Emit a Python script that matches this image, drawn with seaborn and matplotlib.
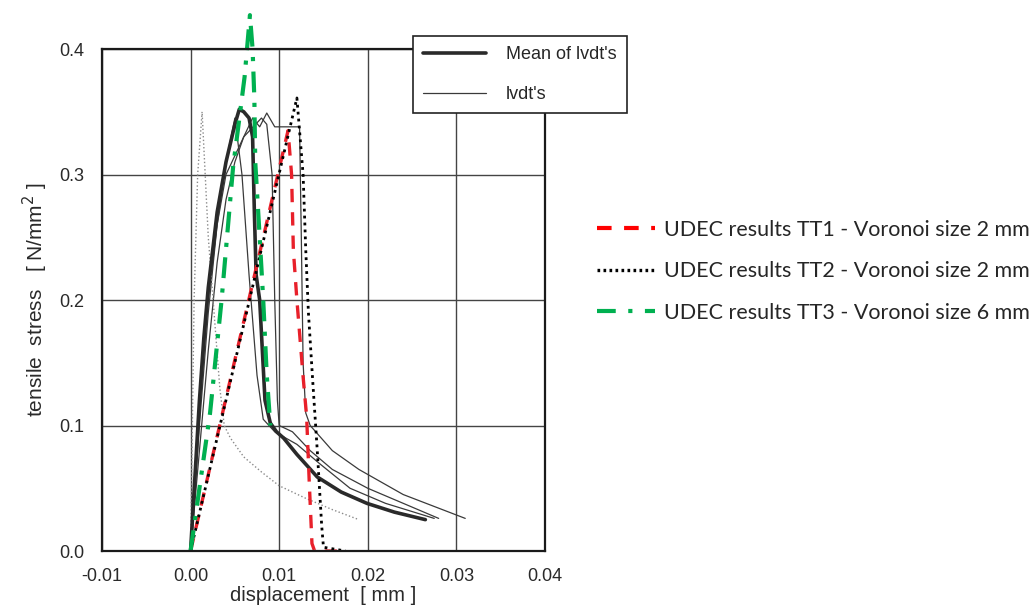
import seaborn as sns
import pandas as pd
import matplotlib.pyplot as plt
from matplotlib.lines import Line2D

# mean of the lvdt measurements (thick line)
mean_x = [0, 0.0005, 0.001, 0.0015, 0.002, 0.003, 0.004, 0.005, 0.0055, 0.006, 0.0066, 0.0070,
          0.0072, 0.0074, 0.0078, 0.0081, 0.0084, 0.0090, 0.0097, 0.0105, 0.012, 0.0143, 0.017,
          0.0199, 0.023, 0.0265]
mean_y = [0, 0.06, 0.12, 0.17, 0.21, 0.27, 0.31, 0.34, 0.352, 0.35, 0.345, 0.33,
          0.27, 0.22, 0.20, 0.16, 0.12, 0.102, 0.095, 0.09, 0.077, 0.059, 0.047,
          0.038, 0.031, 0.025]

# single lvdt's (thin lines)
lvdt1_x = [0, 0.001, 0.002, 0.003, 0.004, 0.005, 0.0058, 0.0066, 0.0075, 0.0082, 0.0095, 0.012,
           0.0145, 0.018, 0.022, 0.0275]
lvdt1_y = [0, 0.1, 0.19, 0.26, 0.31, 0.345, 0.30, 0.22, 0.14, 0.105, 0.095, 0.085,
           0.07, 0.05, 0.038, 0.026]
lvdt2_x = [0, 0.001, 0.002, 0.003, 0.004, 0.005, 0.006, 0.007, 0.0078, 0.0086, 0.0095, 0.0123,
           0.0125, 0.0127, 0.013, 0.0135, 0.016, 0.019, 0.024, 0.031]
lvdt2_y = [0, 0.08, 0.16, 0.23, 0.28, 0.31, 0.33, 0.345, 0.338, 0.349, 0.338, 0.338,
           0.25, 0.15, 0.11, 0.10, 0.08, 0.065, 0.045, 0.026]
lvdt3_x = [0, 0.001, 0.002, 0.003, 0.004, 0.006, 0.008, 0.0086, 0.0092, 0.0095, 0.0098, 0.010,
           0.0115, 0.0135, 0.016, 0.02, 0.025, 0.028]
lvdt3_y = [0, 0.11, 0.2, 0.26, 0.3, 0.33, 0.345, 0.34, 0.30, 0.2, 0.12, 0.1,
           0.095, 0.08, 0.065, 0.05, 0.035, 0.026]
lvdt4_x = [0, 0.0004, 0.0008, 0.0013, 0.002, 0.0033, 0.0038, 0.0045, 0.006, 0.008, 0.01,
           0.013, 0.016, 0.019]
lvdt4_y = [0, 0.2, 0.3, 0.35, 0.25, 0.13, 0.1, 0.09, 0.075, 0.063, 0.052,
           0.042, 0.033, 0.025]

# UDEC results
tt1_x = [0, 0.011, 0.0114, 0.0116, 0.012, 0.0127, 0.0131, 0.0134, 0.0137, 0.014, 0.0165]
tt1_y = [0, 0.335, 0.30, 0.24, 0.2, 0.139, 0.107, 0.054, 0.006, 0.0, 0.0]
tt2_x = [0, 0.012, 0.0127, 0.013, 0.0133, 0.0138, 0.0143, 0.0148, 0.015, 0.0175]
tt2_y = [0, 0.361, 0.30, 0.24, 0.19, 0.134, 0.08, 0.02, 0.003, 0.0]
tt3_x = [0, 0.0022, 0.0035, 0.0048, 0.0056, 0.0061, 0.0067, 0.0070, 0.0072, 0.0073, 0.0078,
         0.0082, 0.0086, 0.009]
tt3_y = [0, 0.11, 0.2, 0.306, 0.35, 0.378, 0.427, 0.40, 0.36, 0.31, 0.25,
         0.2, 0.14, 0.1]

x_ticks = [-0.01, 0.0, 0.01, 0.02, 0.03, 0.04]
x_ticklabels = ['-0.01', '0.00', '0.01', '0.02', '0.03', '0.04']
y_ticks = [0.0, 0.1, 0.2, 0.3, 0.4]
y_ticklabels = ['0.0', '0.1', '0.2', '0.3', '0.4']

sns.set_style("white")
plt.rcParams['font.family'] = ['Liberation Sans', 'DejaVu Sans']

fig = plt.figure(figsize=(10.31, 6.09), dpi=100)
ax = fig.add_axes([0.0989, 0.0952, 0.4297, 0.8243])

grey = '#3a3a3a'
for xs, ys in [(lvdt1_x, lvdt1_y), (lvdt2_x, lvdt2_y), (lvdt3_x, lvdt3_y)]:
    sns.lineplot(x=xs, y=ys, sort=False, estimator=None, ax=ax, color=grey, lw=0.9)
sns.lineplot(x=lvdt4_x, y=lvdt4_y, sort=False, estimator=None, ax=ax, color='#8a8a8a',
             lw=1.0, linestyle=':')
sns.lineplot(x=mean_x, y=mean_y, sort=False, estimator=None, ax=ax, color='#2a2a2a', lw=2.6)

sns.lineplot(x=tt1_x, y=tt1_y, sort=False, estimator=None, ax=ax, color='#e8202a', lw=2.4,
             linestyle=(0, (4, 3)))
sns.lineplot(x=tt2_x, y=tt2_y, sort=False, estimator=None, ax=ax, color='black', lw=2.0,
             linestyle=(0, (1, 1.5)))
sns.lineplot(x=tt3_x, y=tt3_y, sort=False, estimator=None, ax=ax, color='#00b050', lw=3.0,
             linestyle=(0, (5, 2.5, 1, 2.5)), clip_on=False)

ax.set_xlim(-0.01, 0.04)
ax.set_ylim(0, 0.4)
ax.set_xticks(x_ticks)
ax.set_yticks(y_ticks)
ax.set_xticklabels(x_ticklabels)
ax.set_yticklabels(y_ticklabels)
ax.tick_params(axis='x', labelsize=13, colors='#2a2a2a', length=0, pad=12)
ax.tick_params(axis='y', labelsize=13, colors='#2a2a2a', length=0, pad=13)
ax.grid(True, color='#444444', lw=1.0)
for s in ax.spines.values():
    s.set_color('#1a1a1a')
    s.set_linewidth(1.6)
ax.set_xlabel('displacement  [ mm ]', fontsize=14.5, color='#2a2a2a', labelpad=1)
ax.set_ylabel('tensile  stress   [ N/mm$^2$ ]', fontsize=15, color='#2a2a2a', labelpad=6)

# legend of the measurements (inside the frame)
meas = [Line2D([], [], color='#2a2a2a', lw=2.6), Line2D([], [], color=grey, lw=0.9)]
leg1 = fig.legend(meas, ["Mean of lvdt's", "lvdt's"], loc='upper left',
                  bbox_to_anchor=(0.4006, 0.941), borderaxespad=0, fontsize=13,
                  handlelength=3.5, handletextpad=1.1, labelspacing=1.3, borderpad=0.55,
                  fancybox=False, edgecolor='#222222', framealpha=1)
leg1.get_frame().set_linewidth(1.2)

# legend of the UDEC results (outside)
udec = [Line2D([], [], color='#ff0000', lw=3, linestyle=(0, (3.5, 3))),
        Line2D([], [], color='black', lw=2.4, linestyle=(0, (0.8, 1.0))),
        Line2D([], [], color='#00b050', lw=3, linestyle=(0, (4.5, 3, 1, 3)))]
udec_labels = ['UDEC results TT1 - Voronoi size 2 mm',
               'UDEC results TT2 - Voronoi size 2 mm',
               'UDEC results TT3 - Voronoi size 6 mm']
leg2 = fig.legend(udec, udec_labels, loc='upper left', bbox_to_anchor=(0.571, 0.6535),
                  borderaxespad=0, frameon=False, handlelength=2.7, handletextpad=0.4,
                  labelspacing=1.0, prop={'family': 'Lato', 'size': 15.5})

fig.savefig('out.png', dpi=100)
